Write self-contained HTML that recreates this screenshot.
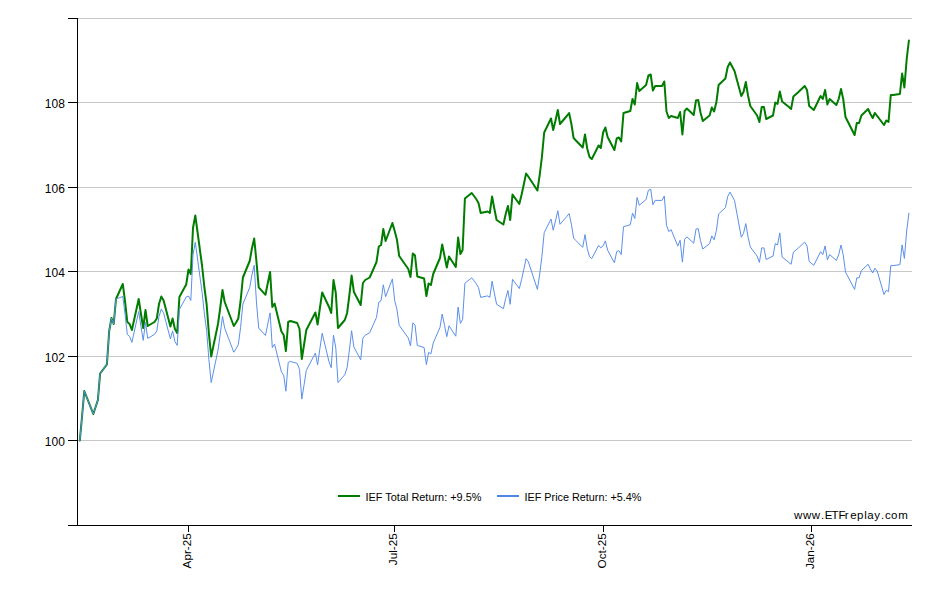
<!DOCTYPE html>
<html><head><meta charset="utf-8"><title>IEF Total Return vs Price Return</title>
<style>
html,body{margin:0;padding:0;background:#fff;}
body{width:940px;height:600px;overflow:hidden;font-family:"Liberation Sans",sans-serif;}
svg{display:block;}
text{font-family:"Liberation Sans",sans-serif;fill:#000;}
</style></head><body>
<svg width="940" height="600" viewBox="0 0 940 600">
<rect x="0" y="0" width="940" height="600" fill="#ffffff"/>
<g shape-rendering="crispEdges">
<rect x="78" y="18" width="834" height="1" fill="#c8c8c8"/>
<rect x="78" y="102" width="834" height="1" fill="#c8c8c8"/>
<rect x="78" y="187" width="834" height="1" fill="#c8c8c8"/>
<rect x="78" y="271" width="834" height="1" fill="#c8c8c8"/>
<rect x="78" y="356" width="834" height="1" fill="#c8c8c8"/>
<rect x="78" y="440" width="834" height="1" fill="#c8c8c8"/>
<rect x="77" y="18" width="1" height="508" fill="#000"/>
<rect x="68" y="525" width="844" height="1" fill="#000"/>
<rect x="68" y="18" width="9" height="1" fill="#000"/>
<rect x="68" y="102" width="9" height="1" fill="#000"/>
<rect x="68" y="187" width="9" height="1" fill="#000"/>
<rect x="68" y="271" width="9" height="1" fill="#000"/>
<rect x="68" y="356" width="9" height="1" fill="#000"/>
<rect x="68" y="440" width="9" height="1" fill="#000"/>
<rect x="188" y="526" width="1" height="6" fill="#000"/>
<rect x="394" y="526" width="1" height="6" fill="#000"/>
<rect x="603" y="526" width="1" height="6" fill="#000"/>
<rect x="811" y="526" width="1" height="6" fill="#000"/>
</g>
<text x="64.9" y="108.0" font-size="12" text-anchor="end">108</text>
<text x="64.9" y="193.0" font-size="12" text-anchor="end">106</text>
<text x="64.9" y="277.0" font-size="12" text-anchor="end">104</text>
<text x="64.9" y="362.0" font-size="12" text-anchor="end">102</text>
<text x="64.9" y="446.0" font-size="12" text-anchor="end">100</text>
<text transform="translate(191.2,533.3) rotate(-90)" font-size="11.7" text-anchor="end">Apr-25</text>
<text transform="translate(397.2,533.3) rotate(-90)" font-size="11.7" text-anchor="end">Jul-25</text>
<text transform="translate(606.2,533.3) rotate(-90)" font-size="11.7" text-anchor="end">Oct-25</text>
<text transform="translate(814.2,533.3) rotate(-90)" font-size="11.7" text-anchor="end">Jan-26</text>
<path d="M79.8 440.5 L82.0 417.0 L84.3 391.0 L93.3 414.0 L95.6 407.0 L97.9 400.0 L100.1 373.5 L106.9 364.5 L109.2 331.0 L111.5 318.0 L113.7 324.0 L116.0 299.0 L122.8 284.0 L125.1 302.0 L127.3 322.0 L129.6 324.0 L131.9 330.0 L138.7 299.0 L140.9 313.5 L143.2 328.0 L145.5 310.0 L147.7 326.0 L154.5 322.0 L156.8 318.5 L159.0 304.0 L161.3 296.5 L163.6 300.5 L170.4 326.5 L172.6 318.5 L174.9 329.0 L177.2 333.0 L179.4 297.0 L186.2 284.5 L188.5 269.5 L190.8 274.0 L193.0 228.0 L195.3 215.5 L202.1 266.0 L204.4 287.5 L206.6 304.0 L208.9 333.5 L211.2 356.5 L218.0 324.0 L220.2 308.0 L222.5 290.0 L224.7 302.0 L233.8 326.0 L236.1 322.5 L238.3 318.5 L240.6 301.0 L242.9 277.5 L249.7 261.0 L251.9 248.5 L254.2 238.5 L256.5 262.0 L258.7 287.3 L265.5 294.8 L267.8 283.0 L270.1 272.0 L272.3 307.0 L274.6 303.5 L281.4 331.5 L283.7 335.0 L285.9 351.0 L288.2 322.0 L290.4 321.0 L297.2 323.0 L299.5 329.0 L301.8 359.0 L304.0 345.0 L306.3 330.0 L315.4 312.5 L317.6 324.5 L319.9 308.0 L322.2 292.5 L329.0 307.0 L331.2 313.0 L333.5 280.0 L335.8 293.0 L338.0 328.0 L344.8 320.0 L347.1 313.0 L349.4 295.0 L351.6 275.5 L353.9 292.0 L360.7 305.0 L362.9 283.0 L365.2 280.0 L369.7 277.5 L376.5 262.0 L378.8 246.5 L381.1 245.0 L383.3 229.0 L385.6 241.0 L392.4 223.0 L394.7 231.0 L396.9 239.5 L399.2 256.0 L408.3 269.0 L410.5 277.0 L412.8 253.5 L415.0 255.5 L417.3 276.5 L424.1 278.5 L426.4 296.0 L428.6 283.5 L430.9 285.0 L433.2 274.0 L440.0 258.0 L442.2 244.5 L444.5 256.0 L446.8 267.5 L449.0 256.5 L455.8 267.0 L458.1 237.5 L460.4 254.0 L462.6 250.0 L464.9 198.5 L471.7 193.0 L474.0 196.0 L476.2 199.0 L478.5 203.0 L480.7 213.0 L487.5 211.5 L489.8 213.0 L492.1 196.5 L494.3 208.5 L496.6 220.0 L503.4 224.5 L505.7 214.0 L507.9 206.0 L510.2 220.0 L512.5 194.5 L519.3 204.0 L521.5 195.0 L523.8 184.5 L526.1 173.5 L528.3 176.5 L537.4 190.5 L539.7 175.0 L541.9 157.0 L544.2 132.5 L551.0 118.5 L553.2 130.0 L555.5 120.5 L557.8 110.0 L560.0 124.0 L566.8 116.0 L569.1 113.0 L571.4 124.0 L573.6 138.0 L575.9 140.5 L582.7 147.5 L585.0 134.5 L587.2 148.5 L589.5 157.0 L591.8 159.0 L598.6 145.5 L600.8 148.0 L603.1 132.5 L605.4 127.5 L607.6 137.0 L614.4 150.0 L616.7 138.5 L618.9 137.5 L621.2 141.5 L623.5 113.0 L630.3 111.0 L632.5 99.0 L634.8 104.5 L637.1 83.0 L639.3 91.0 L646.1 85.0 L648.4 75.5 L650.7 74.5 L652.9 90.5 L655.2 86.0 L662.0 86.0 L664.3 81.5 L666.5 111.5 L668.8 118.0 L671.1 116.0 L677.8 118.0 L680.1 112.0 L682.4 134.5 L684.6 111.0 L686.9 108.5 L693.7 115.0 L696.0 100.5 L698.2 100.0 L700.5 112.5 L702.8 121.0 L709.6 115.5 L711.8 107.5 L714.1 111.5 L716.4 102.0 L718.6 85.0 L725.4 78.5 L727.7 67.0 L730.0 62.5 L734.5 71.0 L741.3 96.0 L743.5 92.0 L745.8 82.0 L748.1 96.0 L750.3 106.0 L757.1 115.5 L759.4 122.0 L761.7 107.0 L763.9 107.0 L766.2 119.0 L773.0 115.5 L775.3 102.5 L777.5 104.0 L779.8 91.5 L782.1 101.5 L788.9 107.0 L791.1 109.0 L793.4 96.5 L797.9 92.5 L804.7 86.0 L807.0 90.0 L809.2 106.0 L813.8 110.0 L820.6 96.0 L822.8 99.0 L825.1 90.0 L827.4 104.5 L829.6 99.0 L836.4 105.0 L838.7 99.0 L841.0 89.0 L843.2 99.0 L845.5 117.0 L854.6 135.0 L856.8 123.0 L859.1 123.0 L861.4 115.5 L868.1 109.0 L870.4 114.0 L872.7 118.0 L874.9 113.0 L877.2 116.0 L884.0 125.0 L886.3 120.5 L888.5 122.0 L890.8 95.0 L893.1 95.0 L899.9 94.0 L902.1 73.5 L904.4 87.5 L906.7 59.0 L908.9 40.5" fill="none" stroke="#007d00" stroke-width="2" stroke-linejoin="round" stroke-linecap="round"/>
<path d="M79.8 440.5 L82.0 417.0 L84.3 391.0 L93.3 414.0 L95.6 407.0 L97.9 400.0 L100.1 373.5 L106.9 364.5 L109.2 331.0 L111.5 318.0 L113.7 324.0 L116.0 299.0 L122.8 296.5 L125.1 314.5 L127.3 334.4 L129.6 336.4 L131.9 342.4 L138.7 311.5 L140.9 326.0 L143.2 340.4 L145.5 322.5 L147.7 338.4 L154.5 334.4 L156.8 330.9 L159.0 316.5 L161.3 309.0 L163.6 313.0 L170.4 338.9 L172.6 330.9 L174.9 341.4 L177.2 345.4 L179.4 309.5 L186.2 297.0 L188.5 296.0 L190.8 300.5 L193.0 254.8 L195.3 242.3 L202.1 292.5 L204.4 313.9 L206.6 330.3 L208.9 359.6 L211.2 382.5 L218.0 350.2 L220.2 334.3 L222.5 316.4 L224.7 328.3 L233.8 352.2 L236.1 348.7 L238.3 344.7 L240.6 327.3 L242.9 304.0 L249.7 287.6 L251.9 275.1 L254.2 265.2 L256.5 303.0 L258.7 328.0 L265.5 335.5 L267.8 323.8 L270.1 312.9 L272.3 347.6 L274.6 344.1 L281.4 371.8 L283.7 375.3 L285.9 391.2 L288.2 362.4 L290.4 361.4 L297.2 363.4 L299.5 369.4 L301.8 399.1 L304.0 385.2 L306.3 370.4 L315.4 353.0 L317.6 364.9 L319.9 348.6 L322.2 333.2 L329.0 361.8 L331.2 367.7 L333.5 335.2 L335.8 348.0 L338.0 382.6 L344.8 374.7 L347.1 367.7 L349.4 350.0 L351.6 330.7 L353.9 347.0 L360.7 359.8 L362.9 338.1 L365.2 335.2 L369.7 332.7 L376.5 317.4 L378.8 302.1 L381.1 300.6 L383.3 284.8 L385.6 296.7 L392.4 278.9 L394.7 300.7 L396.9 309.1 L399.2 325.3 L408.3 338.1 L410.5 346.0 L412.8 322.9 L415.0 324.9 L417.3 345.5 L424.1 347.5 L426.4 364.7 L428.6 352.4 L430.9 353.9 L433.2 343.1 L440.0 327.3 L442.2 314.0 L444.5 325.3 L446.8 336.7 L449.0 325.8 L455.8 336.2 L458.1 307.1 L460.4 323.4 L462.6 319.4 L464.9 283.2 L471.7 277.8 L474.0 280.7 L476.2 283.7 L478.5 287.6 L480.7 297.4 L487.5 295.9 L489.8 297.4 L492.1 281.2 L494.3 293.0 L496.6 304.3 L503.4 308.7 L505.7 298.4 L507.9 290.5 L510.2 304.3 L512.5 279.3 L519.3 288.6 L521.5 279.8 L523.8 269.5 L526.1 258.7 L528.3 261.6 L537.4 289.4 L539.7 274.2 L541.9 256.6 L544.2 232.7 L551.0 219.0 L553.2 230.2 L555.5 220.9 L557.8 210.7 L560.0 224.3 L566.8 216.5 L569.1 213.6 L571.4 224.3 L573.6 238.0 L575.9 240.5 L582.7 247.3 L585.0 234.6 L587.2 248.3 L589.5 256.6 L591.8 258.6 L598.6 245.4 L600.8 247.8 L603.1 245.8 L605.4 240.9 L607.6 250.1 L614.4 262.8 L616.7 251.6 L618.9 250.6 L621.2 254.5 L623.5 226.7 L630.3 224.8 L632.5 213.1 L634.8 218.5 L637.1 197.5 L639.3 205.3 L646.1 199.4 L648.4 190.2 L650.7 189.2 L652.9 204.8 L655.2 200.4 L662.0 200.4 L664.3 196.0 L666.5 225.3 L668.8 231.6 L671.1 229.7 L677.8 246.1 L680.1 240.2 L682.4 262.1 L684.6 239.3 L686.9 236.8 L693.7 243.2 L696.0 229.1 L698.2 228.6 L700.5 240.7 L702.8 249.0 L709.6 243.6 L711.8 235.9 L714.1 239.8 L716.4 230.5 L718.6 214.0 L725.4 207.7 L727.7 196.5 L730.0 192.1 L734.5 200.4 L741.3 237.2 L743.5 233.3 L745.8 223.6 L748.1 237.2 L750.3 246.9 L757.1 256.1 L759.4 262.4 L761.7 247.9 L763.9 247.9 L766.2 259.5 L773.0 256.1 L775.3 243.5 L777.5 245.0 L779.8 232.9 L782.1 257.0 L788.9 262.4 L791.1 264.3 L793.4 252.2 L797.9 248.4 L804.7 242.1 L807.0 245.9 L809.2 261.4 L813.8 265.3 L820.6 251.7 L822.8 254.6 L825.1 245.9 L827.4 259.9 L829.6 254.6 L836.4 260.4 L838.7 254.6 L841.0 245.0 L843.2 254.6 L845.5 272.0 L854.6 289.4 L856.8 277.8 L859.1 277.8 L861.4 270.6 L868.1 264.3 L870.4 269.1 L872.7 273.0 L874.9 268.2 L877.2 271.1 L884.0 294.5 L886.3 290.2 L888.5 291.6 L890.8 265.6 L893.1 265.6 L899.9 264.7 L902.1 244.9 L904.4 258.4 L906.7 231.0 L908.9 213.2" fill="none" stroke="#5a8fea" stroke-width="1" stroke-linejoin="round" stroke-linecap="round"/>
<g shape-rendering="crispEdges"><rect x="338" y="495" width="22" height="2" fill="#007d00"/><rect x="497" y="495" width="22" height="2" fill="#4f87e8"/></g>
<text x="365.5" y="500.5" font-size="11" textLength="116" lengthAdjust="spacingAndGlyphs">IEF Total Return: +9.5%</text>
<text x="524.5" y="500.5" font-size="11" textLength="117" lengthAdjust="spacingAndGlyphs">IEF Price Return: +5.4%</text>
<text y="518.7" font-size="11.5" x="794.1 802.9 811.8 821.0 824.8 831.6 838.5 844.7 850.2 857.0 864.3 867.3 874.2 881.0 885.0 891.0 898.2">www.ETFreplay.com</text>
</svg></body></html>
